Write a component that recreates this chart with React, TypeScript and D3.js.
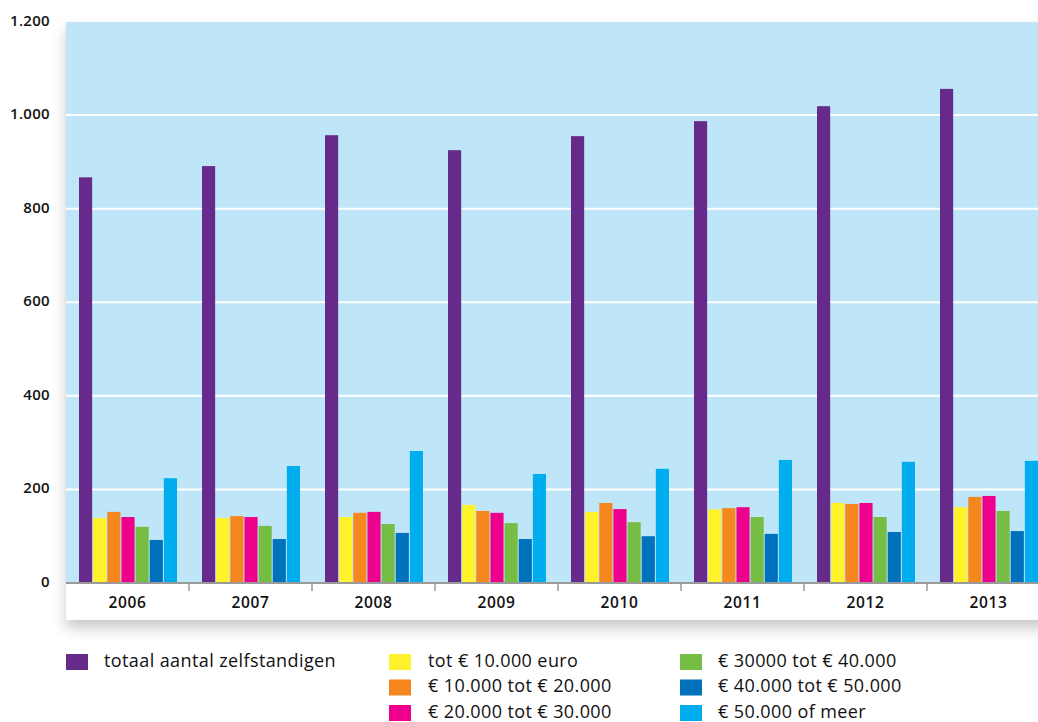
import React from "react";
import * as d3 from "d3";

const years = ["2006", "2007", "2008", "2009", "2010", "2011", "2012", "2013"];
const seriesNames = [
  "totaal aantal zelfstandigen",
  "tot € 10.000 euro",
  "€ 10.000 tot € 20.000",
  "€ 20.000 tot € 30.000",
  "€ 30000 tot € 40.000",
  "€ 40.000 tot € 50.000",
  "€ 50.000 of meer",
];
const seriesColors = ["#662a8a", "#fff22a", "#f6871f", "#ec008c", "#76be43", "#0071ba", "#00aeef"];

const totaal = [867, 891, 957, 925, 955, 987, 1019, 1056];
const tot10k = [139, 139, 141, 167, 152, 157, 171, 162];
const k10to20 = [152, 143, 150, 154, 171, 160, 169, 184];
const k20to30 = [141, 141, 152, 150, 158, 162, 171, 186];
const k30to40 = [120, 122, 126, 128, 130, 141, 141, 154];
const k40to50 = [92, 94, 107, 94, 100, 105, 109, 111];
const k50plus = [224, 250, 282, 233, 244, 263, 259, 261];
const seriesValues = [totaal, tot10k, k10to20, k20to30, k30to40, k40to50, k50plus];

const yTicks = [0, 200, 400, 600, 800, 1000, 1200];
const formatTick = (v: number) => d3.format(",")(v).replace(/,/g, ".");

// legend layout: column index and row index per series
const legendCol = [0, 1, 1, 1, 2, 2, 2];
const legendRow = [0, 0, 1, 2, 0, 1, 2];

export default function App() {
  const W = 1038;
  const H = 722;
  const plotLeft = 66;
  const step = 123;
  const plotTop = 22;
  const zeroY = 583;
  const labelBottom = 620;

  const x = d3.scaleBand<string>().domain(years).range([plotLeft, plotLeft + step * years.length]).padding(0);
  const inner = d3
    .scaleBand<string>()
    .domain(seriesNames)
    .range([13, 111])
    .paddingInner(0.07)
    .paddingOuter(0);
  const y = d3.scaleLinear().domain([0, 1200]).range([zeroY, 21.5]);

  const legendSquareX = [66, 389, 680];
  const legendTextX = [104, 428, 718];
  const legendRowY = [662, 687.5, 713];

  const font = "'Open Sans', 'DejaVu Sans', sans-serif";

  return (
    <svg
      width={W}
      height={H}
      style={{ position: "absolute", left: 0, top: 0, display: "block" }}
      fontFamily={font}
    >
      <defs>
        <filter id="shadow" x="-5%" y="-5%" width="115%" height="120%">
          <feDropShadow dx="0" dy="8" stdDeviation="7" floodColor="#000" floodOpacity="0.22" />
        </filter>
        <clipPath id="clip">
          <rect x={0} y={0} width={W} height={H} />
        </clipPath>
      </defs>
      <rect x={0} y={0} width={W} height={H} fill="#ffffff" />
      {/* card */}
      <rect
        x={plotLeft}
        y={plotTop}
        width={W - plotLeft + 20}
        height={labelBottom - plotTop}
        fill="#ffffff"
        filter="url(#shadow)"
      />
      <rect x={plotLeft} y={plotTop} width={W - plotLeft} height={zeroY - plotTop} fill="#bfe5f8" />
      {/* gridlines */}
      {yTicks
        .filter((t) => t > 0 && t < 1200)
        .map((t) => (
          <line key={t} x1={plotLeft} x2={W} y1={y(t)} y2={y(t)} stroke="#ffffff" strokeWidth={2} />
        ))}
      {/* bars */}
      <g clipPath="url(#clip)">
        {years.map((yr, i) => (
          <g key={yr} transform={`translate(${x(yr)},0)`}>
            {seriesNames.map((s, j) => {
              const v = seriesValues[j][i];
              return (
                <rect
                  key={s}
                  x={inner(s)}
                  y={y(v)}
                  width={inner.bandwidth()}
                  height={y(0) - y(v)}
                  fill={seriesColors[j]}
                />
              );
            })}
          </g>
        ))}
      </g>
      {/* x axis line */}
      <line x1={plotLeft} x2={W} y1={zeroY} y2={zeroY} stroke="#9a9a9a" strokeWidth={2} />
      {years.slice(1).map((yr) => (
        <line
          key={yr}
          x1={x(yr)!}
          x2={x(yr)!}
          y1={zeroY}
          y2={zeroY + 8}
          stroke="#9a9a9a"
          strokeWidth={1.5}
        />
      ))}
      {years.map((yr) => (
        <text
          key={yr}
          x={x(yr)! + x.bandwidth() / 2}
          y={604}
          textAnchor="middle"
          dominantBaseline="middle"
          fontSize={15.5}
          fontWeight={600}
          letterSpacing={0.6}
          fill="#111"
        >
          {yr}
        </text>
      ))}
      {/* y labels */}
      {yTicks.map((t) => (
        <text
          key={t}
          x={50}
          y={y(t)}
          textAnchor="end"
          dominantBaseline="middle"
          fontSize={15}
          fontWeight={600}
          letterSpacing={0.3}
          fill="#111"
        >
          {formatTick(t)}
        </text>
      ))}
      {/* legend */}
      {seriesNames.map((s, j) => (
        <g key={s}>
          <rect
            x={legendSquareX[legendCol[j]]}
            y={legendRowY[legendRow[j]] - 8}
            width={22}
            height={16}
            fill={seriesColors[j]}
          />
          <text
            x={legendTextX[legendCol[j]]}
            y={legendRowY[legendRow[j]]}
            dominantBaseline="middle"
            fontSize={18}
            letterSpacing={0.4}
            fill="#111"
          >
            {s}
          </text>
        </g>
      ))}
    </svg>
  );
}
